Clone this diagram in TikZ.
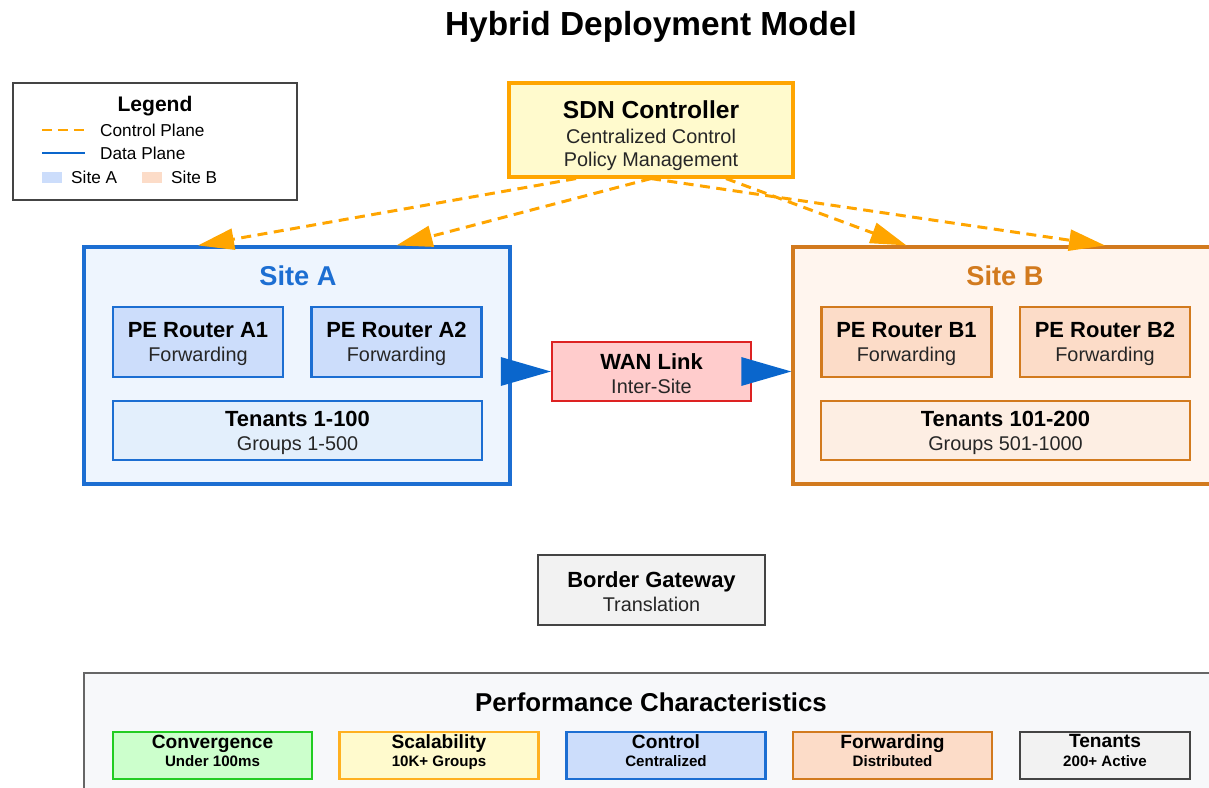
\documentclass[tikz,border=0pt]{standalone}
\usepackage{fontspec}
\setmainfont{Liberation Sans}
\usetikzlibrary{arrows.meta,calc,positioning}

\definecolor{ctrlorange}{HTML}{FFA500}
\definecolor{ctrlfill}{HTML}{FFFACD}
\definecolor{datablue}{HTML}{0A66CC}
\definecolor{siteAblue}{HTML}{1C6ED2}
\definecolor{siteAbg}{HTML}{EEF5FE}
\definecolor{siteAfill}{HTML}{CCDDFB}
\definecolor{siteAten}{HTML}{E3EFFC}
\definecolor{siteBorange}{HTML}{D27A1E}
\definecolor{siteBbg}{HTML}{FFF5EE}
\definecolor{siteBfill}{HTML}{FCDCC8}
\definecolor{siteBten}{HTML}{FDEEE3}
\definecolor{wanred}{HTML}{DD2222}
\definecolor{wanfill}{HTML}{FFCCCC}
\definecolor{gwgray}{HTML}{444444}
\definecolor{gwfill}{HTML}{F2F2F2}
\definecolor{perfgray}{HTML}{666666}
\definecolor{perffill}{HTML}{F7F8FA}
\definecolor{convgreen}{HTML}{22CC22}
\definecolor{convfill}{HTML}{CCFFCC}
\definecolor{scalorange}{HTML}{FFB020}
\definecolor{textgray}{HTML}{262626}

\newcommand{\boxlines}[2]{{\fontsize{12.5}{15}\selectfont\bfseries\color{black}\rule{0pt}{11pt}#1}\\#2}
\newcommand{\perflines}[2]{{\fontsize{10.9}{13}\selectfont #1}\\#2\rule[-5.5pt]{0pt}{1pt}}

\begin{document}
\begin{tikzpicture}[x=0.02cm, y=-0.02cm,
  box/.style={draw, line width=1.2pt, align=center, inner sep=0pt,
    font=\fontsize{11.3}{13.6}\selectfont, text=textgray},
  sitebox/.style={draw, line width=1.8pt, inner sep=0pt},
  sitetitle/.style={font=\fontsize{15.5}{18}\selectfont\bfseries},
  pebox/.style={box, minimum width=3.4cm, minimum height=1.4cm},
  tenbox/.style={box, minimum width=7.38cm, minimum height=1.18cm},
  pbox/.style={draw, line width=1.2pt, align=center, inner sep=0pt,
    minimum height=0.94cm, font=\fontsize{8.6}{10.6}\selectfont\bfseries},
  legtext/.style={anchor=west, font=\fontsize{9.8}{12}\selectfont},
  ctrlarrow/.style={ctrlorange, line width=1.7pt, dash pattern=on 0.2cm off 0.13cm,
    -{Triangle[length=0.72cm,width=0.42cm]}},
  dataarrow/.style={datablue, line width=1.7pt, -{Triangle[length=1.0cm,width=0.56cm]}},
]
\useasboundingbox (0,0) rectangle (1209,787);

% Title
\node[font=\fontsize{19}{22}\selectfont\bfseries] (title) at (651,27) {Hybrid Deployment Model};

% Legend
\node[draw=gwgray, line width=1.2pt, fill=white, minimum width=5.68cm, minimum height=2.34cm] (legend) at (155,141.5) {};
\node[font=\fontsize{12}{14}\selectfont\bfseries] (legtitle) at (155,106) {Legend};
\coordinate (cpA) at (42,130);
\coordinate (cpB) at (85,130);
\draw[ctrlorange, line width=1.7pt, dash pattern=on 0.2cm off 0.12cm] (cpA) -- (cpB);
\node[legtext] (cptext) at (94,130) {Control Plane};
\coordinate (dpA) at (42,153);
\coordinate (dpB) at (85,153);
\draw[datablue, line width=1.7pt] (dpA) -- (dpB);
\node[legtext] (dptext) at (94,153) {Data Plane};
\node[fill=siteAfill, minimum width=0.4cm, minimum height=0.22cm, inner sep=0pt] (swA) at (52,177.5) {};
\node[legtext] (swAtext) at (65,177.5) {Site A};
\node[fill=siteBfill, minimum width=0.4cm, minimum height=0.22cm, inner sep=0pt] (swB) at (152,177.5) {};
\node[legtext] (swBtext) at (165,177.5) {Site B};

% SDN controller
\node[box, draw=ctrlorange, fill=ctrlfill, line width=1.8pt, minimum width=5.68cm, minimum height=1.88cm] (ctrl) at (651,130)
  {{\fontsize{14}{17}\selectfont\bfseries\color{black}\rule{0pt}{17pt}SDN Controller}\\[0.5pt]Centralized Control\\[-0.5pt]Policy Management};

% Site A
\node[sitebox, draw=siteAblue, fill=siteAbg, minimum width=8.52cm, minimum height=4.74cm] (siteA) at (297,365.5) {};
\node[sitetitle, text=siteAblue] (siteAtitle) at (298,276) {Site A};
\node[pebox, draw=siteAblue, fill=siteAfill] (peA1) at (198,342) {\boxlines{PE Router A1}{Forwarding}};
\node[pebox, draw=siteAblue, fill=siteAfill] (peA2) at (396.5,342) {\boxlines{PE Router A2}{Forwarding}};
\node[tenbox, draw=siteAblue, fill=siteAten] (tenA) at (297.5,430.5) {\boxlines{Tenants 1-100}{Groups 1-500}};

% Site B
\node[sitebox, draw=siteBorange, fill=siteBbg, minimum width=8.52cm, minimum height=4.74cm] (siteB) at (1006,365.5) {};
\node[sitetitle, text=siteBorange] (siteBtitle) at (1005,276) {Site B};
\node[pebox, draw=siteBorange, fill=siteBfill] (peB1) at (906.5,342) {\boxlines{PE Router B1}{Forwarding}};
\node[pebox, draw=siteBorange, fill=siteBfill] (peB2) at (1105,342) {\boxlines{PE Router B2}{Forwarding}};
\node[tenbox, draw=siteBorange, fill=siteBten] (tenB) at (1005.5,430.5) {\boxlines{Tenants 101-200}{Groups 501-1000}};

% WAN link
\node[box, draw=wanred, fill=wanfill, minimum width=3.98cm, minimum height=1.18cm] (wan) at (651.5,371.5) {\boxlines{WAN Link}{Inter-Site}};

% Border gateway
\node[box, draw=gwgray, fill=gwfill, line width=1.5pt, minimum width=4.54cm, minimum height=1.4cm] (gw) at (651.5,590) {\boxlines{Border Gateway}{Translation}};

% Control plane
\foreach \dx/\pe/\site in {-75/peA1/siteA, 0/peA2/siteA, 75/peB1/siteB, 0/peB2/siteB} {
  \draw[ctrlarrow] ($(ctrl.south)+(\dx,0)$) -- (\site.north -| \pe.north);
}

% Data plane
\draw[dataarrow] (wan.west -| siteA.east) -- (wan.west);
\draw[dataarrow] (wan.east) -- (wan.east -| siteB.west);

% Performance characteristics
\node[draw=perfgray, fill=perffill, line width=1.2pt, minimum width=22.7cm, minimum height=2.54cm] (perf) at (651.5,736.5) {};
\node[font=\fontsize{14.7}{17}\selectfont\bfseries] (perftitle) at (651,702) {Performance Characteristics};
\foreach \name/\x/\w/\fc/\dc/\head/\sub in {
    conv/212.5/3.98cm/convfill/convgreen/Convergence/Under 100ms,
    scal/439/3.98cm/ctrlfill/scalorange/Scalability/10K+ Groups,
    ctl/666/3.98cm/siteAfill/siteAblue/Control/Centralized,
    fwd/892.5/3.98cm/siteBfill/siteBorange/Forwarding/Distributed,
    ten/1105/3.4cm/gwfill/gwgray/Tenants/200+ Active} {
  \node[pbox, draw=\dc, fill=\fc, minimum width=\w] (\name) at (\x,755.5) {\perflines{\head}{\sub}};
}
\end{tikzpicture}
\end{document}
